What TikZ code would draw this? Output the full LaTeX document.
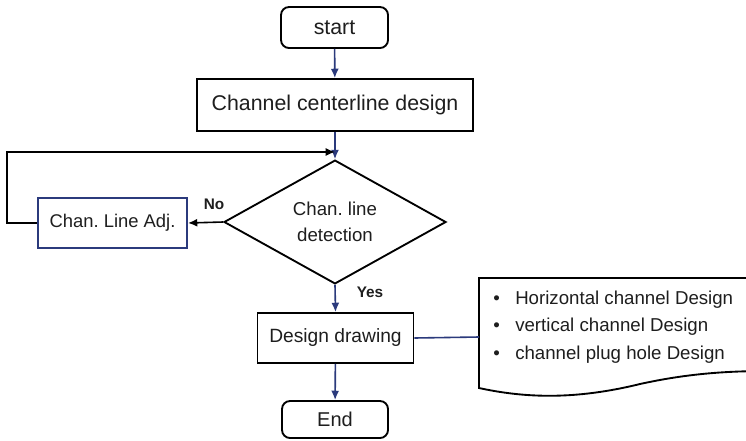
\documentclass[tikz,border=0pt]{standalone}
\usepackage{fontspec}
\setmainfont{Liberation Sans}
\usetikzlibrary{arrows.meta,shapes.geometric}
\definecolor{navy}{HTML}{2B3A7C}
\definecolor{ink}{HTML}{1E1E1E}
\tikzset{
  box/.style={draw=black,line width=1.4pt,inner sep=0pt,align=center,text=ink},
  term/.style={box,rounded corners=6pt},
  arr/.style={line width=1.2pt,-{Latex[length=7pt,width=6pt]}},
  navyarr/.style={arr,draw=navy},
  lbl/.style={font=\fontsize{11.5}{13}\selectfont\bfseries,inner sep=0pt,text=ink}
}
\begin{document}
\frenchspacing
\begin{tikzpicture}[x=0.75pt,y=-0.75pt]
\clip (0,0) rectangle (746,440);
\fill[white] (0,0) rectangle (746,440);
\node[term,minimum width=80.25pt,minimum height=30.75pt,font=\fontsize{16}{19}\selectfont] (start) at (334.5,27.5) {start};
\node[box,minimum width=207pt,minimum height=39pt,font=\fontsize{16}{19}\selectfont] (ccd) at (335,105) {Channel centerline design};
\node[box,diamond,minimum width=166.5pt,minimum height=83pt,font=\fontsize{14}{19.5}\selectfont] (det) at (335,222) {Chan. line\\detection};
\node[box,draw=navy,minimum width=111.75pt,minimum height=37.5pt,font=\fontsize{13.8}{16}\selectfont] (adj) at (112.5,223) {Chan. Line Adj.};
\node[box,minimum width=117pt,minimum height=37.5pt,font=\fontsize{14.4}{17}\selectfont] (dd) at (335.5,338) {Design drawing};
\node[term,minimum width=79.5pt,minimum height=27.75pt,font=\fontsize{15}{18}\selectfont] (end) at (335,419.5) {End};
% document shape
\coordinate (docw) at (479,337);
\draw[line width=1.4pt] (770,278) -- (479,278) -- (479,388)
  .. controls (525,398) and (575,400) .. (640,384)
  .. controls (690,373) and (730,371) .. (770,371);
\node[anchor=west,inner sep=0pt,align=left,text=ink,font=\fontsize{14}{20.6}\selectfont] (list) at (493,327)
  {\textbullet\hspace{11.6pt}Horizontal channel Design\\
   \textbullet\hspace{11.6pt}vertical channel Design\\
   \textbullet\hspace{11.6pt}channel plug hole Design};
% connectors
\coordinate (loopend) at (ccd.south |- 0,152);
\draw[navyarr] (start) -- (ccd);
\draw[navyarr] (ccd) -- (det.north);
\draw[arr] (det.west) -- (adj.east);
\draw[arr] (adj.west) -- ++(-30,0) |- (loopend);
\draw[navyarr] (det.south) -- (dd.north);
\draw[navyarr] (dd) -- (end);
\draw[line width=1.2pt,draw=navy] (dd.east) -- (docw);
\node[lbl] (no) at (214,204) {No};
\node[lbl] (yes) at (370,292) {Yes};
\end{tikzpicture}
\end{document}
